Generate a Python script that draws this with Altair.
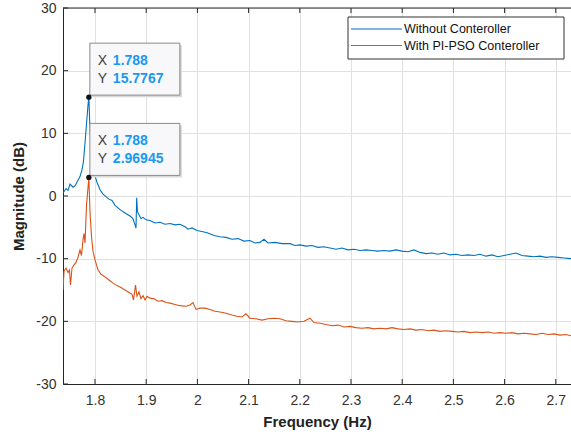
import altair as alt
import pandas as pd

# ---------------- data ----------------
series_names = ["Without Conteroller", "With PI-PSO Conteroller"]
series_colors = ["#0072BD", "#D95319"]

blue_freq = [1.7375, 1.7434, 1.7473, 1.7512, 1.7570, 1.7609, 1.7668, 1.7707, 1.7746, 1.7775,
             1.7805, 1.7834, 1.7863, 1.788, 1.7898, 1.7922, 1.7951, 1.8000, 1.8039, 1.8098,
             1.8156, 1.8215, 1.8273, 1.8332, 1.8391, 1.8449, 1.8508, 1.8566, 1.8625, 1.8684,
             1.8742, 1.8781, 1.8801, 1.8814, 1.8830, 1.8859, 1.8898, 1.8938, 1.8996, 1.9074,
             1.9172, 1.9270, 1.9367, 1.9465, 1.9563, 1.9660, 1.9758, 1.9816, 1.9895, 1.9992,
             2.0109, 2.0207, 2.0324, 2.0441, 2.0559, 2.0676, 2.0793, 2.0910, 2.1027, 2.1125,
             2.1223, 2.1301, 2.1379, 2.1516, 2.1652, 2.1809, 2.1906, 2.2004, 2.2121, 2.2238,
             2.2355, 2.2473, 2.2590, 2.2707, 2.2824, 2.2941, 2.3059, 2.3176, 2.3293, 2.3410,
             2.3527, 2.3645, 2.3762, 2.3879, 2.3996, 2.4113, 2.4230, 2.4348, 2.4465, 2.4582,
             2.4699, 2.4816, 2.4934, 2.5051, 2.5168, 2.5285, 2.5402, 2.5520, 2.5637, 2.5754,
             2.5871, 2.5988, 2.6105, 2.6223, 2.6340, 2.6457, 2.6574, 2.6691, 2.6809, 2.6926,
             2.7043, 2.7160, 2.7297]
blue_mag = [0.5, 1.2, 0.9, 1.9, 1.4, 1.6, 2.5, 3.1, 4.2, 5.5,
            8.5, 11.5, 14.5, 15.7767, 11.5, 7.5, 5.0, 3.2, 2.2, 1.0,
            0.3, -0.1, -0.5, -0.7, -1.5, -1.9, -2.3, -2.6, -2.9, -3.2,
            -3.6, -4.6, -5.1, -0.3, -2.5, -3.0, -3.6, -3.4, -3.8, -3.9,
            -4.3, -4.2, -4.5, -4.4, -4.6, -4.5, -4.9, -5.3, -5.1, -5.5,
            -5.7, -5.9, -6.3, -6.5, -6.6, -6.9, -6.8, -7.2, -7.1, -7.5,
            -7.4, -6.9, -7.5, -7.4, -7.6, -7.6, -7.9, -7.8, -8.0, -7.9,
            -8.2, -8.1, -8.3, -8.5, -8.3, -8.6, -8.5, -8.7, -8.6, -8.7,
            -8.8, -8.7, -8.8, -8.6, -8.8, -8.9, -8.6, -9.0, -9.2, -9.1,
            -9.3, -9.1, -9.4, -9.3, -9.5, -9.4, -9.5, -9.3, -9.6, -9.4,
            -9.7, -9.5, -9.3, -9.1, -9.5, -9.6, -9.7, -9.6, -9.8, -9.7,
            -9.8, -9.9, -10.0]

orange_freq = [1.7375, 1.7395, 1.7434, 1.7473, 1.7502, 1.7521, 1.7551, 1.7590, 1.7629, 1.7668,
               1.7707, 1.7736, 1.7766, 1.7785, 1.7805, 1.7834, 1.788, 1.7902, 1.7932, 1.7961,
               1.8000, 1.8059, 1.8117, 1.8195, 1.8273, 1.8352, 1.8430, 1.8508, 1.8586, 1.8664,
               1.8723, 1.8752, 1.8791, 1.8820, 1.8859, 1.8898, 1.8938, 1.8977, 1.9016, 1.9074,
               1.9152, 1.9230, 1.9309, 1.9387, 1.9465, 1.9563, 1.9660, 1.9777, 1.9855, 1.9914,
               1.9973, 2.0051, 2.0148, 2.0246, 2.0344, 2.0441, 2.0559, 2.0676, 2.0773, 2.0871,
               2.0949, 2.1027, 2.1145, 2.1262, 2.1379, 2.1496, 2.1613, 2.1730, 2.1848, 2.1965,
               2.2082, 2.2199, 2.2277, 2.2395, 2.2512, 2.2629, 2.2746, 2.2863, 2.2980, 2.3098,
               2.3215, 2.3332, 2.3449, 2.3566, 2.3684, 2.3801, 2.3918, 2.4035, 2.4152, 2.4270,
               2.4387, 2.4504, 2.4621, 2.4738, 2.4855, 2.4973, 2.5090, 2.5207, 2.5324, 2.5441,
               2.5559, 2.5676, 2.5793, 2.5910, 2.6027, 2.6145, 2.6262, 2.6379, 2.6496, 2.6613,
               2.6730, 2.6848, 2.6965, 2.7082, 2.7199, 2.7297]
orange_mag = [-15.0, -12.0, -11.5, -12.2, -11.8, -14.2, -11.5, -11.0, -10.6, -9.8,
              -8.6, -9.5, -7.0, -6.0, -7.5, -1.5, 2.96945, -2.5, -6.5, -8.8,
              -10.2, -11.8, -12.5, -12.9, -13.4, -13.9, -14.3, -14.6, -15.0, -15.4,
              -15.7, -16.6, -14.2, -16.0, -15.3, -16.4, -15.9, -16.6, -16.0, -16.3,
              -16.4, -16.8, -16.7, -17.0, -17.1, -17.3, -17.5, -17.6, -17.4, -17.0,
              -18.1, -17.9, -17.9, -18.1, -18.4, -18.5, -18.7, -19.0, -19.2, -19.3,
              -18.8, -19.5, -19.6, -19.8, -19.6, -19.5, -19.6, -19.9, -20.0, -20.1,
              -20.0, -19.5, -20.2, -20.3, -20.5, -20.7, -20.6, -20.9, -20.8, -21.0,
              -21.1, -21.0, -21.2, -21.1, -21.2, -21.0, -21.2, -21.3, -21.2, -21.4,
              -21.3, -21.5, -21.4, -21.6, -21.5, -21.6, -21.7, -21.6, -21.8, -21.7,
              -21.8, -21.7, -21.9, -21.8, -21.9, -21.8, -22.0, -21.9, -22.0, -22.1,
              -21.9, -22.1, -22.0, -22.2, -22.1, -22.3]

x_ticks = [1.8, 1.9, 2, 2.1, 2.2, 2.3, 2.4, 2.5, 2.6, 2.7]
y_ticks = [-30, -20, -10, 0, 10, 20, 30]
x_domain = [1.7375, 2.7297]
y_domain = [-30, 30]

tip_freq = [1.788, 1.788]
tip_mag = [15.7767, 2.96945]
tip_xtext = ["1.788", "1.788"]
tip_ytext = ["15.7767", "2.96945"]

# ---------------- layout ----------------
W, H = 508, 376
FONT = "Liberation Sans"
AX = "#262626"
TIP_BLUE = "#1a98f0"

lines_df = pd.concat([
    pd.DataFrame({"f": blue_freq, "mag": blue_mag, "series": series_names[0]}),
    pd.DataFrame({"f": orange_freq, "mag": orange_mag, "series": series_names[1]}),
], ignore_index=True)
xt_df = pd.DataFrame({"f": x_ticks})
yt_df = pd.DataFrame({"mag": y_ticks})
tips_df = pd.DataFrame({"f": tip_freq, "mag": tip_mag, "xt": tip_xtext, "yt": tip_ytext})

xscale = alt.Scale(domain=x_domain, nice=False, zero=False)
yscale = alt.Scale(domain=y_domain, nice=False, zero=False)

lines = alt.Chart(lines_df).mark_line(strokeWidth=1.1, clip=True).encode(
    x=alt.X("f:Q", scale=xscale, title="Frequency (Hz)",
            axis=alt.Axis(values=x_ticks, labelExpr="toString(datum.value)",
                          grid=True, gridColor="#e1e1e1", ticks=False,
                          domainColor=AX, labelColor="#333333", labelFontSize=14,
                          labelPadding=9, titleFontSize=15, titleFontWeight="bold",
                          titleColor="#222222", titleY=37, titleBaseline="middle",
                          labelFont=FONT, titleFont=FONT)),
    y=alt.Y("mag:Q", scale=yscale, title="Magnitude (dB)",
            axis=alt.Axis(values=y_ticks, labelExpr="toString(datum.value)",
                          grid=True, gridColor="#e1e1e1", ticks=False,
                          domainColor=AX, labelColor="#333333", labelFontSize=14,
                          labelPadding=7, titleFontSize=15, titleFontWeight="bold",
                          titleColor="#222222", titleX=-45, titleBaseline="middle",
                          labelFont=FONT, titleFont=FONT)),
    color=alt.Color("series:N", scale=alt.Scale(domain=series_names, range=series_colors),
                    legend=None),
    detail="series:N",
)

# inward ticks (MATLAB style)
xt_bottom = alt.Chart(xt_df).mark_rule(color=AX, strokeWidth=1).encode(
    x="f:Q", y=alt.value(H), y2=alt.value(H - 5))
xt_top = alt.Chart(xt_df).mark_rule(color=AX, strokeWidth=1).encode(
    x="f:Q", y=alt.value(0), y2=alt.value(5))
yt_left = alt.Chart(yt_df).mark_rule(color=AX, strokeWidth=1).encode(
    y="mag:Q", x=alt.value(0), x2=alt.value(5))
top_border = alt.Chart(xt_df.head(1)).mark_rule(color=AX, strokeWidth=1).encode(
    x=alt.value(0), x2=alt.value(W), y=alt.value(0))

# data tips
tip_shadow = alt.Chart(tips_df).mark_rect(
    fill="#d8d8d8", xOffset=3, x2Offset=93, yOffset=0, y2Offset=-52).encode(
    x="f:Q", x2="f", y="mag:Q", y2="mag")
tip_box = alt.Chart(tips_df).mark_rect(
    fill="#f8f8fa", stroke="#8a8a8a", strokeWidth=1,
    xOffset=1, x2Offset=91, yOffset=-2, y2Offset=-54).encode(
    x="f:Q", x2="f", y="mag:Q", y2="mag")
tip_xlab = alt.Chart(tips_df).mark_text(
    align="left", baseline="middle", dx=9, dy=-36, font=FONT, fontSize=14,
    color="#404040").encode(x="f:Q", y="mag:Q", text=alt.value("X"))
tip_ylab = alt.Chart(tips_df).mark_text(
    align="left", baseline="middle", dx=9, dy=-18, font=FONT, fontSize=14,
    color="#404040").encode(x="f:Q", y="mag:Q", text=alt.value("Y"))
tip_xval = alt.Chart(tips_df).mark_text(
    align="left", baseline="middle", dx=24, dy=-36, font=FONT, fontSize=14,
    fontWeight="bold", color=TIP_BLUE).encode(x="f:Q", y="mag:Q", text="xt:N")
tip_yval = alt.Chart(tips_df).mark_text(
    align="left", baseline="middle", dx=24, dy=-18, font=FONT, fontSize=14,
    fontWeight="bold", color=TIP_BLUE).encode(x="f:Q", y="mag:Q", text="yt:N")
tip_dot = alt.Chart(tips_df).mark_circle(size=28, color="#111111", opacity=1).encode(
    x="f:Q", y="mag:Q")

# manual legend
leg_one = pd.DataFrame({"k": [0]})
legend_layers = [
    alt.Chart(leg_one).mark_rect(fill="white", stroke="#333333", strokeWidth=1).encode(
        x=alt.value(285), x2=alt.value(501), y=alt.value(9), y2=alt.value(51))
]
for i, (name, col) in enumerate(zip(series_names, series_colors)):
    yy = 21 + i * 16.5
    legend_layers.append(
        alt.Chart(leg_one).mark_rule(color=col, strokeWidth=1.2).encode(
            x=alt.value(288), x2=alt.value(339), y=alt.value(yy)))
    legend_layers.append(
        alt.Chart(leg_one).mark_text(align="left", baseline="middle", font=FONT,
                                     fontSize=12.5, color="#111111").encode(
            x=alt.value(341), y=alt.value(yy), text=alt.value(name)))

chart = alt.layer(
    lines, xt_bottom, xt_top, yt_left, top_border,
    tip_shadow, tip_box, tip_xlab, tip_ylab, tip_xval, tip_yval, tip_dot,
    *legend_layers,
).properties(
    width=W, height=H,
    padding={"left": 63, "top": 8, "right": 0, "bottom": 52},
    autosize=alt.AutoSizeParams(type="none"),
    background="white",
).configure_view(stroke=None).configure(font=FONT)

chart.save("out.html", embed_options={"renderer": "svg", "actions": False})
